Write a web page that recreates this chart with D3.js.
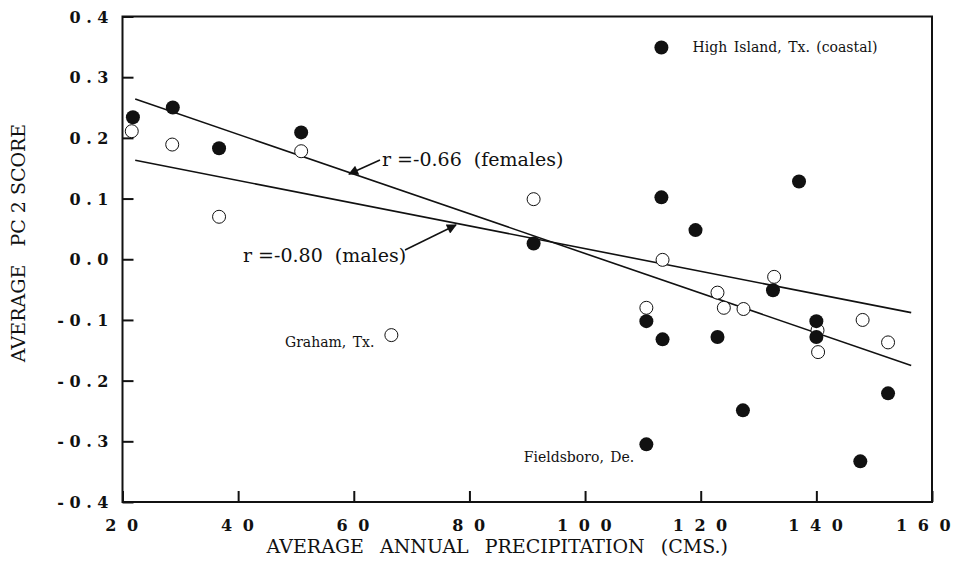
<!DOCTYPE html>
<html>
<head>
<meta charset="utf-8">
<script src="https://cdn.jsdelivr.net/npm/d3@7"></script>
<style>
  body { margin: 0; background: #fff; }
  svg { display: block; }
  text { font-family: "DejaVu Serif", "Liberation Serif", serif; fill: #111; }
</style>
</head>
<body>
<div id="chart"></div>
<script>
// closed circles (females) and open circles (males)
var femaleX = [21.8, 28.7, 36.7, 50.9, 91.1, 113.2, 113.2, 110.6, 113.4, 119.1, 122.9, 127.3, 132.5, 137.0, 140.0, 140.0, 110.6, 147.6, 152.4];
var femaleY = [0.234, 0.250, 0.183, 0.209, 0.026, 0.349, 0.102, -0.102, -0.132, 0.048, -0.128, -0.249, -0.051, 0.128, -0.102, -0.128, -0.305, -0.333, -0.221];
var maleX = [21.6, 28.6, 36.7, 50.9, 91.1, 66.5, 113.4, 132.7, 110.6, 122.9, 124.0, 127.4, 140.2, 140.3, 148.0, 152.4];
var maleY = [0.211, 0.189, 0.070, 0.178, 0.099, -0.125, -0.001, -0.029, -0.080, -0.055, -0.080, -0.082, -0.117, -0.153, -0.100, -0.137];

// regression line end points
var fitX = [22.2, 156.4];
var femaleFit = [0.264, -0.175];
var maleFit = [0.163, -0.088];

var xTicks = [20, 40, 60, 80, 100, 120, 140, 160];
var yTicks = [0.4, 0.3, 0.2, 0.1, 0.0, -0.1, -0.2, -0.3, -0.4];

var siteLabels = [
  { text: "High Island, Tx. (coastal)", x: 118.6, y: 0.35 },
  { text: "Graham, Tx.", x: 48.1, y: -0.136 },
  { text: "Fieldsboro, De.", x: 89.4, y: -0.326 }
];

var width = 966, height = 570;
var margin = { top: 16.5, right: 34, bottom: 68, left: 122.5 };

var svg = d3.select("#chart").append("svg")
  .attr("width", width)
  .attr("height", height);

var x = d3.scaleLinear().domain([20, 160]).range([margin.left, width - margin.right]);
var y = d3.scaleLinear().domain([-0.4, 0.4]).range([height - margin.bottom, margin.top]);

function spaced(s) { return s.split("").join(" "); }

// frame
svg.append("rect")
  .attr("x", x(20)).attr("y", y(0.4))
  .attr("width", x(160) - x(20)).attr("height", y(-0.4) - y(0.4))
  .attr("fill", "none").attr("stroke", "#111").attr("stroke-width", 2);

var yAxis = svg.append("g")
  .attr("transform", `translate(${x(20)},0)`)
  .call(d3.axisLeft(y).tickValues(yTicks).tickSizeInner(-11).tickSizeOuter(0).tickPadding(14)
    .tickFormat(d => spaced(d < 0 ? "-" + d3.format(".1f")(-d) : d3.format(".1f")(d))));

var xAxis = svg.append("g")
  .attr("transform", `translate(0,${y(-0.4)})`)
  .call(d3.axisBottom(x).tickValues(xTicks).tickSizeInner(-11).tickSizeOuter(0).tickPadding(20)
    .tickFormat(d => spaced(String(d))));

[yAxis, xAxis].forEach(function(ax) {
  ax.select(".domain").remove();
  ax.selectAll(".tick line").attr("stroke", "#111").attr("stroke-width", 2);
  ax.selectAll(".tick text")
    .attr("font-family", "DejaVu Serif")
    .attr("font-size", 16)
    .attr("font-weight", "bold")
    .attr("fill", "#111");
});
yAxis.selectAll(".tick text").attr("dy", "0.35em");
xAxis.selectAll(".tick text").attr("dy", "0.55em").attr("letter-spacing", 2.5);
// last label sits a little inside the frame, as in the print
xAxis.selectAll(".tick").filter(d => d === 160).select("text").attr("dx", -8);

// regression lines
var line = d3.line().x(d => x(d[0])).y(d => y(d[1]));
[femaleFit, maleFit].forEach(function(fit) {
  svg.append("path")
    .datum(fitX.map((v, i) => [v, fit[i]]))
    .attr("d", line)
    .attr("fill", "none")
    .attr("stroke", "#111")
    .attr("stroke-width", 1.6);
});

// points
svg.append("g").selectAll("circle")
  .data(maleX.map((v, i) => [v, maleY[i]]))
  .join("circle")
  .attr("cx", d => x(d[0])).attr("cy", d => y(d[1]))
  .attr("r", 6.5)
  .attr("fill", "#fff").attr("stroke", "#111").attr("stroke-width", 1);

svg.append("g").selectAll("circle")
  .data(femaleX.map((v, i) => [v, femaleY[i]]))
  .join("circle")
  .attr("cx", d => x(d[0])).attr("cy", d => y(d[1]))
  .attr("r", 7)
  .attr("fill", "#111");

// site labels
svg.append("g").selectAll("text")
  .data(siteLabels)
  .join("text")
  .attr("x", d => x(d.x)).attr("y", d => y(d.y))
  .attr("dy", "0.35em")
  .attr("font-family", "Liberation Serif")
  .attr("font-size", 14)
  .attr("word-spacing", 2)
  .text(d => d.text);

// r annotations with arrows
svg.append("defs").append("marker")
  .attr("id", "arrow")
  .attr("viewBox", "0 0 10 10")
  .attr("refX", 9).attr("refY", 5)
  .attr("markerWidth", 13).attr("markerHeight", 10)
  .attr("markerUnits", "userSpaceOnUse")
  .attr("orient", "auto")
  .append("path").attr("d", "M0,0 L10,5 L0,10 Z").attr("fill", "#111");

var notes = [
  { text: "r =-0.66  (females)", tx: 382, ty: 166, from: [380, 160], to: [349, 174] },
  { text: "r =-0.80  (males)", tx: 243, ty: 262, from: [405, 250], to: [456, 225] }
];
notes.forEach(function(n) {
  svg.append("text")
    .attr("x", n.tx).attr("y", n.ty)
    .attr("font-family", "Liberation Serif")
    .attr("font-size", 19)
    .attr("xml:space", "preserve")
    .style("white-space", "pre")
    .text(n.text);
  svg.append("line")
    .attr("x1", n.from[0]).attr("y1", n.from[1])
    .attr("x2", n.to[0]).attr("y2", n.to[1])
    .attr("stroke", "#111").attr("stroke-width", 1.5)
    .attr("marker-end", "url(#arrow)");
});

// axis titles
svg.append("text")
  .attr("x", (x(20) + x(160)) / 2 - 30)
  .attr("y", 553)
  .attr("text-anchor", "middle")
  .attr("font-family", "Liberation Serif")
  .attr("font-size", 19)
  .attr("word-spacing", 10)
  .text("AVERAGE ANNUAL PRECIPITATION (CMS.)");

svg.append("text")
  .attr("transform", "translate(25,243) rotate(-90)")
  .attr("text-anchor", "middle")
  .attr("font-family", "Liberation Serif")
  .attr("font-size", 19)
  .attr("xml:space", "preserve")
  .style("white-space", "pre")
  .text("AVERAGE   PC 2 SCORE");
</script>
</body>
</html>
